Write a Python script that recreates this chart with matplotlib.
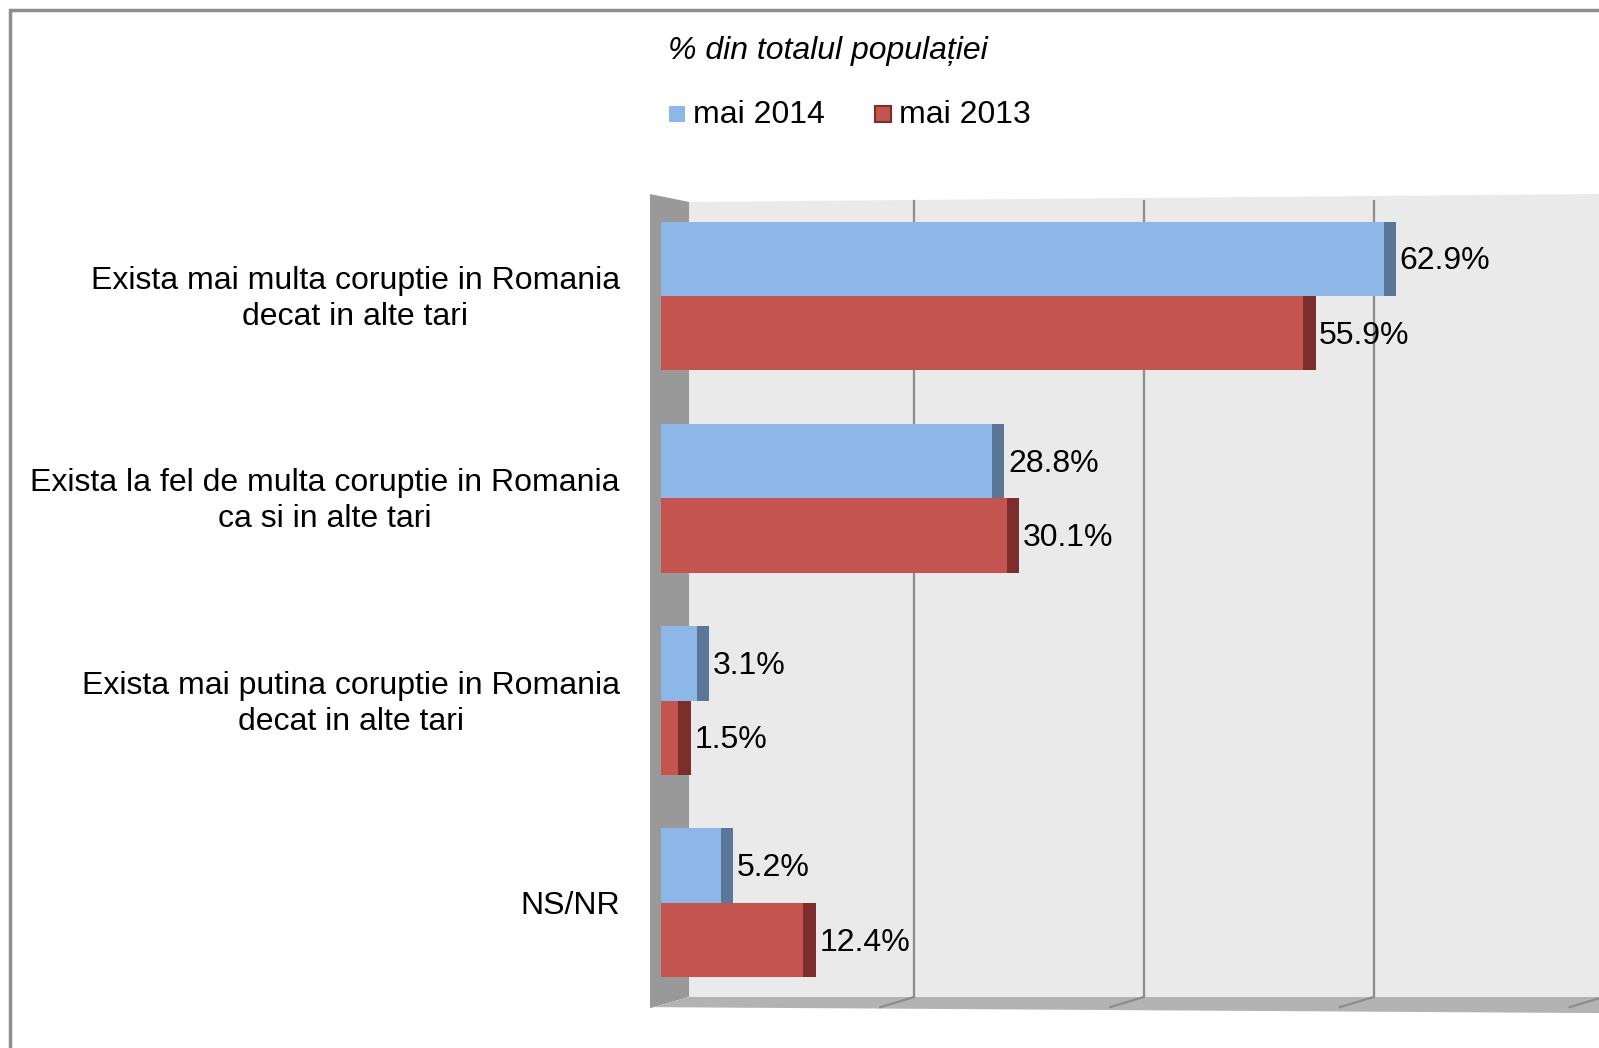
#Bar chart - coruptie Romania vs alte tari (3D look like Excel)

import numpy as np
import matplotlib
matplotlib.use("Agg")
import matplotlib.pyplot as plt
from matplotlib.patches import Rectangle, Polygon

plt.rcParams['font.family'] = ['Liberation Sans', 'DejaVu Sans']

#Data
categories = ["Exista mai multa coruptie in Romania\ndecat in alte tari",
              "Exista la fel de multa coruptie in Romania\nca si in alte tari",
              "Exista mai putina coruptie in Romania\ndecat in alte tari",
              "NS/NR"]
series_names = ["mai 2014", "mai 2013"]
values_2014 = [62.9, 28.8, 3.1, 5.2]
values_2013 = [55.9, 30.1, 1.5, 12.4]
grid_ticks = [20, 40, 60, 80]
title = "% din totalul populației"

#Colors
front_colors = ["#8DB7E6", "#C4544F"]
side_colors = ["#5A7797", "#7D2E2C"]
wall_back = "#EAEAEA"
wall_side = "#999999"
floor_col = "#B3B3B3"
grid_col = "#8C8C8C"

W, H = 1599, 1048
fig = plt.figure(figsize=(W / 100, H / 100), dpi=100)

#axes placed so that x=0 sits at the front plane of the bars
x0_px, x80_px = 661, 1580
ytop_px, ybot_px = 190, 1013
ax = fig.add_axes([x0_px / W, 1 - ybot_px / H, (x80_px - x0_px) / W, (ybot_px - ytop_px) / H])
ax.set_xlim(0, 80)
ax.set_ylim(3.544, -0.524)
ax.axis("off")

depth = 2.44   # depth of the 3D box in data units
side_w = 1.1   # width of the dark bar end
fs = 23

#back wall
ax.add_patch(Polygon([(depth, -0.465), (83, -0.505), (83, 3.465), (depth, 3.465)],
                     closed=True, facecolor=wall_back, edgecolor="none", clip_on=False, zorder=0))
#gridlines on the back wall
for g in grid_ticks:
    ax.plot([g + depth - 0.4, g + depth - 0.4], [-0.47, 3.465], color=grid_col, lw=1.6, clip_on=False, zorder=1)

#left side wall
ax.add_patch(Polygon([(-0.96, -0.504), (depth, -0.465), (depth, 3.465), (-0.96, 3.52)],
                     closed=True, facecolor=wall_side, edgecolor="none", clip_on=False, zorder=2))
#floor
ax.add_patch(Polygon([(-0.96, 3.52), (depth, 3.465), (83, 3.465), (83, 3.545), (-0.96, 3.515)],
                     closed=True, facecolor=floor_col, edgecolor="none", clip_on=False, zorder=2))
for g in grid_ticks:
    ax.plot([g + depth - 0.4, g - 0.9], [3.465, 3.515], color=grid_col, lw=1.6, clip_on=False, zorder=3)

#bars
y = np.arange(len(categories))
bar_h = 0.368
for i, vals in enumerate([values_2014, values_2013]):
    pos = y - bar_h / 2 if i == 0 else y + bar_h / 2
    ax.barh(pos, vals, height=bar_h, color=front_colors[i], edgecolor="none", zorder=4)
    for p, v in zip(pos, vals):
        ax.add_patch(Rectangle((v, p - bar_h / 2), side_w, bar_h, facecolor=side_colors[i],
                               edgecolor="none", zorder=5, clip_on=False))
        ax.text(v + side_w + 0.3, p + 0.012, "%.1f%%" % v, ha="left", va="center", fontsize=fs, zorder=6)

#category labels
for yy, lab in zip(y, categories):
    ax.text(-3.6, yy + 0.015, lab, ha="right", va="center", multialignment="center", fontsize=fs,
            linespacing=1.25, clip_on=False)

#title and legend
fig.text(828 / W, 1 - 51 / H, title, ha="center", va="center", fontsize=fs, style="italic")
leg_x = [669, 875]
for i, name in enumerate(series_names):
    fig.patches.append(Rectangle((leg_x[i] / W, 1 - 122 / H), 16 / W, 16 / H, transform=fig.transFigure,
                                 facecolor=front_colors[i], edgecolor=side_colors[i] if i == 1 else "none",
                                 lw=1.5, figure=fig))
    fig.text((leg_x[i] + 24) / W, 1 - 115 / H, name, ha="left", va="center", fontsize=fs)

#outer border
fig.patches.append(Rectangle((10 / W, -0.05), 1.1, 1 - 10 / H + 0.05, transform=fig.transFigure,
                             facecolor="none", edgecolor="#8E8E8E", lw=2.5, figure=fig))

fig.savefig("out.png", dpi=100)
